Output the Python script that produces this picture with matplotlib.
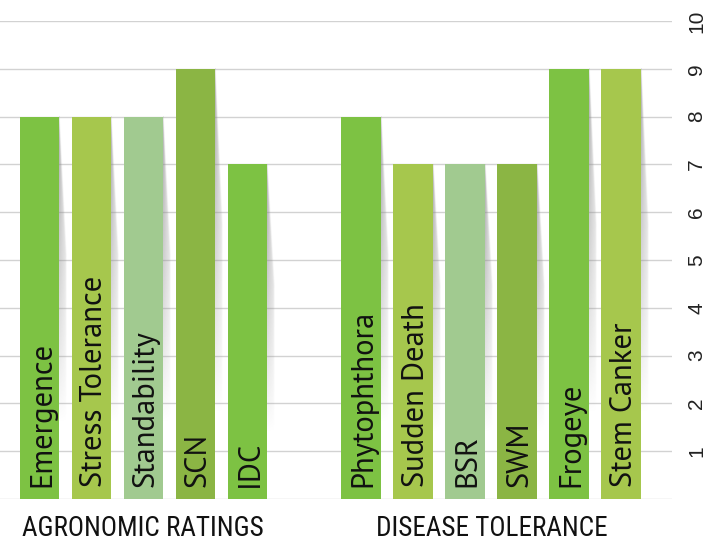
import numpy as np
import matplotlib
matplotlib.use("Agg")
import matplotlib.pyplot as plt

# ---- data ----
agro_labels = ["Emergence", "Stress Tolerance", "Standability", "SCN", "IDC"]
agro_values = [8, 8, 8, 9, 7]
disease_labels = ["Phytophthora", "Sudden Death", "BSR", "SWM", "Frogeye", "Stem Canker"]
disease_values = [8, 7, 7, 7, 9, 9]
group_titles = ["AGRONOMIC RATINGS", "DISEASE TOLERANCE"]
y_ticks = [1, 2, 3, 4, 5, 6, 7, 8, 9, 10]

# ---- styles ----
C_BRIGHT = "#7DC243"
C_YELLOW = "#A6C74D"
C_SAGE = "#A1CA90"
C_OLIVE = "#8BB544"
agro_colors = [C_BRIGHT, C_YELLOW, C_SAGE, C_OLIVE, C_BRIGHT]
disease_colors = [C_BRIGHT, C_YELLOW, C_SAGE, C_OLIVE, C_BRIGHT, C_YELLOW]
BAR_FONT = ["PT Sans", "Liberation Sans", "DejaVu Sans"]
TITLE_FONT = ["Roboto Condensed", "PT Sans Narrow", "DejaVu Sans"]
TICK_FONT = ["Liberation Sans", "DejaVu Sans"]

W, H = 711, 555
fig = plt.figure(figsize=(W / 100, H / 100), dpi=100)
ax = fig.add_axes([0, (H - 499) / H, 672 / W, 478 / H])

step = 52.0
bar_w = 39.5
agro_x = 39.5 + step * np.arange(len(agro_labels))
disease_x = 361.0 + step * np.arange(len(disease_labels))

xs = list(agro_x) + list(disease_x)
vals = agro_values + disease_values
labels = agro_labels + disease_labels
colors = agro_colors + disease_colors

# gridlines
for v in [0] + y_ticks:
    ax.axhline(v, color="#d2d2d2", lw=1.0, zorder=1)

# shadows (gradient wedge to the right of each bar)
nx, ny = 60, 300
for x, v in zip(xs, vals):
    right = x + bar_w / 2
    Wsh = 8.0
    dx = np.linspace(0, Wsh, nx)[None, :]
    t = np.linspace(1, 0, ny)[:, None]  # origin lower: row 0 is bottom (t=1)
    wid = Wsh * np.clip(0.1 + t / 0.4, 0, 1)
    wid = np.maximum(wid, 1e-3)
    fade = np.clip(1 - t / 0.8, 0, 1) ** 0.9
    edge = np.clip((wid - dx) / 1.5, 0, 1)
    alpha = 0.75 * fade * edge * np.clip(1 - 0.6 * dx / wid, 0, 1)
    img = np.zeros((ny, nx, 4))
    img[..., :3] = 0.55
    img[..., 3] = alpha
    ax.imshow(img, extent=(right, right + Wsh, 0, v), origin="lower",
              aspect="auto", zorder=2, interpolation="bilinear")

ax.bar(xs, vals, width=bar_w, color=colors, zorder=3, linewidth=0)

for x, v, lab in zip(xs, vals, labels):
    ax.text(x + 10.5, 0.25, lab, rotation=90, rotation_mode="anchor",
            ha="left", va="baseline", fontsize=22, color="#111111",
            family=BAR_FONT, fontweight="normal", zorder=4)

ax.set_xlim(0, 672)
ax.set_ylim(0, 10)
ax.set_yticks(y_ticks)
ax.set_yticklabels([str(t) for t in y_ticks])
ax.yaxis.tick_right()
ax.tick_params(axis="y", length=0, pad=11, labelsize=15, labelrotation=90,
               labelcolor="#222222")
for lbl in ax.get_yticklabels():
    lbl.set_family(TICK_FONT)
    lbl.set_va("center")
ax.set_xticks([])
for s in ax.spines.values():
    s.set_visible(False)

fig.text(143 / W, 1 - 528 / H, group_titles[0], ha="center", va="center",
         fontsize=19.5, color="#111111", family=TITLE_FONT)
fig.text(492 / W, 1 - 528 / H, group_titles[1], ha="center", va="center",
         fontsize=19.5, color="#111111", family=TITLE_FONT)

fig.savefig("out.png", dpi=100, facecolor="white")
